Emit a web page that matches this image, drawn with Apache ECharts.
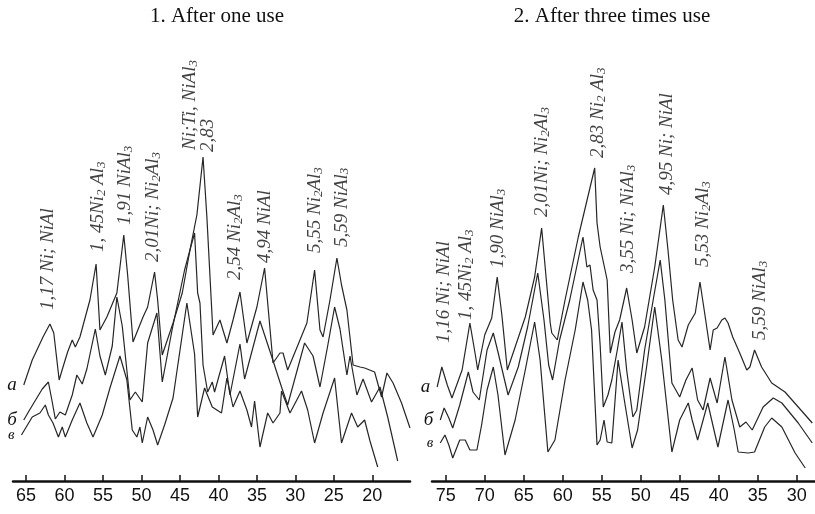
<!DOCTYPE html>
<html>
<head>
<meta charset="utf-8">
<script src="https://cdn.jsdelivr.net/npm/echarts@6/dist/echarts.min.js"></script>
<style>
  html, body { margin: 0; padding: 0; background: #fff; }
  #chart { width: 815px; height: 514px; }
</style>
</head>
<body>
<div id="chart"></div>
<script>
// ---- Panel 1: after one use (2θ, deg / relative intensity, curves offset) ----
const p1_a_x = [65.3,64.2,62.8,61.9,61.4,60.7,60.2,59.6,59.0,58.6,58.0,57.3,56.7,55.9,55.4,54.5,53.2,52.3,51.8,51.1,49.8,49.2,48.3,47.9,47.3,45.9,44.7,43.7,42.8,42.0,41.5,40.7,39.8,38.9,38.1,37.2,36.3,35.0,34.0,32.9,32.0,31.6,31.0,29.4,28.5,27.5,26.8,26.4,25.5,24.6,24.0,23.3,22.5,21.6,21.0,19.7,18.8,18.1,17.3,16.2,15.1];
const p1_a_y = [96,121,144,157,148,101,114,129,141,134,144,164,181,217,151,164,188,246,206,139,164,174,209,181,126,158,188,231,266,324,264,146,161,138,161,189,138,174,213,118,128,128,111,141,158,211,151,144,181,223,196,171,116,114,113,109,84,108,98,78,53];

const p1_b_x = [65.3,64.7,62.9,62.1,61.6,61.2,60.6,59.9,59.0,58.4,57.7,57.1,56.0,55.4,54.7,53.8,53.2,52.5,51.5,50.8,49.9,49.2,48.0,47.3,46.0,44.4,43.1,42.7,42.4,42.0,41.4,40.8,40.5,39.2,38.5,37.2,36.6,34.6,33.1,31.8,31.0,28.8,27.7,26.8,25.8,24.9,24.2,23.3,22.9,22.0,21.2,20.1,19.0,18.0,16.7];
const p1_b_y = [61,69,92,99,79,62,69,66,86,106,97,112,152,125,106,135,184,155,81,89,79,138,168,99,152,211,248,188,178,116,89,99,89,125,86,137,102,160,125,94,76,138,125,94,135,174,152,106,125,86,102,79,94,64,20];

const p1_c_x = [65.6,64.2,63.2,62.5,62.1,61.5,60.8,60.3,59.9,59.0,58.0,57.1,56.3,55.1,54.1,52.8,51.9,51.2,50.6,50.2,49.9,49.2,48.5,47.9,47.0,45.9,44.1,43.1,42.7,41.8,40.8,39.6,38.9,38.1,37.2,36.3,35.7,35.3,34.6,33.6,32.9,32.0,31.8,30.7,29.2,28.4,27.5,26.4,24.9,24.0,22.7,21.9,21.0,20.3,19.3];
const p1_c_y = [46,64,68,76,66,58,44,54,44,61,78,58,44,66,93,125,101,51,44,54,38,64,51,36,56,83,178,127,64,93,74,68,103,74,90,71,54,80,34,68,58,68,90,68,90,71,38,68,103,38,68,54,61,40,14];

// ---- Panel 2: after three times use ----
const p2_a_x = [76.1,75.5,74.8,74.2,72.9,71.9,71.2,70.9,70.0,69.1,68.4,67.8,67.1,66.1,64.8,63.6,62.7,62.1,61.6,61.4,60.7,59.7,58.0,55.9,55.6,55.2,54.3,53.9,53.3,52.7,51.8,51.1,50.5,49.5,48.2,47.1,46.5,45.9,45.2,44.7,43.9,43.0,42.4,41.8,41.1,40.7,40.2,39.6,39.2,38.8,38.2,37.3,36.4,36.0,35.4,34.5,33.2,31.5,29.8,28.0];
const p2_a_y = [94,114,96,83,111,158,126,111,146,163,204,166,111,134,164,204,253,201,158,148,141,181,244,313,258,234,201,128,149,161,193,161,128,154,214,276,231,181,141,134,156,168,199,168,131,151,153,161,163,158,144,128,111,114,131,114,98,89,74,58];

const p2_b_x = [75.7,75.2,74.6,74.1,73.2,72.1,71.5,70.7,69.7,68.9,68.3,67.7,67.0,65.7,64.5,63.2,62.4,61.8,61.3,60.4,59.1,57.4,56.9,56.5,56.1,55.6,55.2,54.8,54.2,53.7,53.0,52.4,51.8,51.0,50.5,49.5,48.4,47.5,46.9,46.0,45.0,44.2,43.4,42.7,42.0,41.1,40.2,39.2,38.3,37.3,36.5,35.7,34.3,33.0,31.9,29.8,28.0];
const p2_b_y = [61,73,63,53,76,109,89,81,131,148,129,109,86,114,154,208,161,116,101,141,181,244,214,216,191,181,136,74,86,101,131,159,111,64,71,131,181,221,181,98,84,101,113,81,71,103,78,124,81,54,59,51,74,83,78,58,38];

const p2_c_x = [75.7,75.1,74.6,74.1,73.2,72.5,71.9,71.0,70.4,69.7,68.9,68.3,67.4,66.1,64.8,63.6,62.9,61.9,61.0,59.7,58.4,57.4,56.8,56.3,55.6,55.2,54.7,54.3,53.7,52.9,52.1,51.1,50.4,49.3,48.2,47.3,46.0,45.0,43.9,43.4,42.7,41.4,40.9,40.1,38.8,38.0,37.5,36.2,35.4,34.1,33.2,31.9,30.2,28.9];
const p2_c_y = [38,46,36,23,41,41,31,31,56,91,114,86,26,61,111,159,121,29,41,101,151,199,181,151,36,41,61,39,38,121,81,33,51,111,174,121,29,61,78,61,41,78,61,34,81,51,29,28,29,54,63,54,28,13];

// Curve letters
const curveNames = ['а', 'б', 'в'];

// Peak annotations: text, 2θ position, height of the text foot
const p1_notes = ['1,17 Ni; NiAl', '1, 45Ni₂ Al₃', '1,91 NiAl₃', '2,01Ni; Ni₂Al₃', 'Ni;Ti, NiAl₃', '2,83', '2,54 Ni₂Al₃', '4,94 NiAl', '5,55 Ni₂Al₃', '5,59 NiAl₃'];
const p1_note_x = [62.1, 55.7, 52.1, 48.5, 43.7, 41.4, 37.9, 34.0, 27.5, 24.0];
const p1_note_y = [171, 229, 256, 219, 331, 329, 201, 218, 228, 234];

const p2_notes = ['1,16 Ni; NiAl', '1, 45Ni₂ Al₃', '1,90 NiAl₃', '2,01Ni; Ni₂Al₃', '2,83 Ni₂ Al₃', '3,55 Ni; NiAl₃', '4,95 Ni; NiAl', '5,53 Ni₂Al₃', '5,59 NiAl₃'];
const p2_note_x = [75.2, 72.4, 68.3, 62.7, 55.5, 51.6, 46.6, 42.0, 34.7];
const p2_note_y = [138, 161, 213, 264, 323, 208, 286, 214, 141];

// Axis ticks
const p1_ticks = [65, 60, 55, 50, 45, 40, 35, 30, 25, 20];
const p2_ticks = [75, 70, 65, 60, 55, 50, 45, 40, 35, 30];

const titles = ['1. After one use', '2. After three times use'];

// ---------------------------------------------------------------
const SERIF = '"Liberation Serif", "Times New Roman", serif';
const SANS = '"Liberation Sans", Arial, sans-serif';
const INK = '#262626';

const zip = (xs, ys) => xs.map((x, i) => [x, ys[i]]);

// subscript digits -> rich text tokens
const toRich = s => s.replace(/[₀-₉]/g, ch => '{s|' + (ch.charCodeAt(0) - 0x2080) + '}');

function curve(xs, ys, idx, name) {
  return {
    type: 'line',
    xAxisIndex: idx, yAxisIndex: idx,
    data: zip(xs, ys),
    showSymbol: false,
    silent: true,
    lineStyle: { color: INK, width: 1.2 },
    markPoint: {
      symbol: 'circle', symbolSize: 0, silent: true,
      data: [{ coord: [xs[0], ys[0]] }],
      label: {
        show: true, position: 'left', distance: 7,
        formatter: name,
        fontFamily: SERIF, fontStyle: 'italic',
        fontSize: name === 'в' ? 15 : 19, color: '#111'
      }
    }
  };
}

function notes(texts, xs, ys, idx) {
  return {
    type: 'scatter',
    xAxisIndex: idx, yAxisIndex: idx,
    symbolSize: 0, silent: true,
    data: texts.map((t, i) => [xs[i], ys[i], toRich(t)]),
    label: {
      show: true, position: 'inside', rotate: 90,
      align: 'left', verticalAlign: 'middle',
      formatter: p => p.data[2],
      fontFamily: SERIF, fontStyle: 'italic', fontSize: 19, color: '#111',
      rich: {
        s: { fontFamily: SERIF, fontStyle: 'italic', fontSize: 13, color: '#111', padding: [7, 0, 0, 0] }
      }
    }
  };
}

function xAxis(idx, min, max, ticks) {
  return {
    type: 'value', gridIndex: idx, inverse: true, min: min, max: max,
    splitLine: { show: false },
    axisLine: { show: true, onZero: false, lineStyle: { color: '#111', width: 2.5 } },
    axisTick: { show: true, inside: true, length: 6, customValues: ticks, lineStyle: { color: '#111', width: 1.5 } },
    axisLabel: { customValues: ticks, margin: 6, fontFamily: SANS, fontSize: 18, color: '#111' }
  };
}

const chart = echarts.init(document.getElementById('chart'), null, { renderer: 'canvas' });
chart.setOption({
  animation: false,
  backgroundColor: '#fff',
  title: [
    { text: titles[0], left: 212, top: 1, textAlign: 'center',
      textStyle: { fontFamily: SERIF, fontSize: 21, fontWeight: 'normal', color: '#111' } },
    { text: titles[1], left: 607, top: 1, textAlign: 'center',
      textStyle: { fontFamily: SERIF, fontSize: 21, fontWeight: 'normal', color: '#111' } }
  ],
  grid: [
    { left: 13, right: 405, top: 31, bottom: 33 },
    { left: 432, right: 0, top: 31, bottom: 33 }
  ],
  xAxis: [
    xAxis(0, 15.1, 66.7, p1_ticks),
    xAxis(1, 27.65, 76.76, p2_ticks)
  ],
  yAxis: [
    { type: 'value', gridIndex: 0, min: 0, max: 450, show: false },
    { type: 'value', gridIndex: 1, min: 0, max: 450, show: false }
  ],
  series: [
    curve(p1_a_x, p1_a_y, 0, curveNames[0]),
    curve(p1_b_x, p1_b_y, 0, curveNames[1]),
    curve(p1_c_x, p1_c_y, 0, curveNames[2]),
    curve(p2_a_x, p2_a_y, 1, curveNames[0]),
    curve(p2_b_x, p2_b_y, 1, curveNames[1]),
    curve(p2_c_x, p2_c_y, 1, curveNames[2]),
    notes(p1_notes, p1_note_x, p1_note_y, 0),
    notes(p2_notes, p2_note_x, p2_note_y, 1)
  ]
});
</script>
</body>
</html>
